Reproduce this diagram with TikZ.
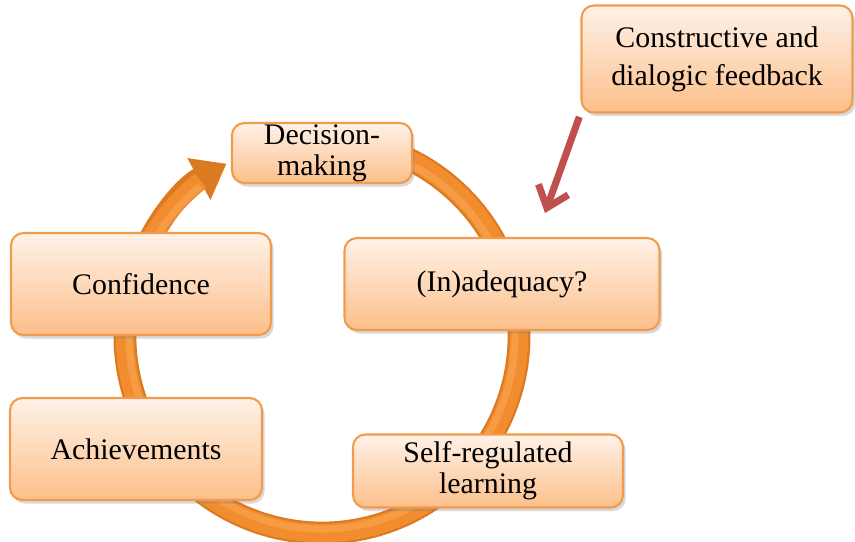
\documentclass[tikz,border=0pt]{standalone}
\usepackage{fontspec}
\setmainfont{Liberation Serif}
\usetikzlibrary{arrows.meta,shadows}

\definecolor{boxtop}{HTML}{FFF2E8}
\definecolor{boxbot}{HTML}{FCBF8A}
\definecolor{boxedge}{HTML}{F29B4C}
\definecolor{ringdark}{HTML}{DB7A20}
\definecolor{ringmid}{HTML}{F28D2F}
\definecolor{ringlight}{HTML}{F59C45}
\definecolor{fbred}{HTML}{C0504D}

\begin{document}
\begin{tikzpicture}[x=0.02cm, y=-0.02cm,
    stage/.style = {draw=boxedge, line width=1.2pt, rounded corners=7pt,
                    top color=boxtop, bottom color=boxbot,
                    drop shadow={shadow xshift=1.5pt, shadow yshift=-2pt, opacity=.3},
                    align=center, inner sep=0pt,
                    font=\fontsize{17}{17.5}\selectfont},
    fbarrow/.style = {draw=fbred, line width=4pt, line join=miter,
                      -{Straight Barb[length=11pt,width=18pt]}}]
    \useasboundingbox (0,0) rectangle (855,541);

    % the cycle goes under the boxes
    \coordinate (hub) at (322,336);
    \draw[ringdark, line width=13pt, -{Triangle[length=18pt,width=26pt]}]
        (hub) ++(-75:197) arc[start angle=-75, end angle=241, radius=197];
    \draw[ringmid, line width=10.5pt]
        (hub) ++(-75:197) arc[start angle=-75, end angle=232, radius=197];
    \draw[ringlight, line width=4pt]
        (hub) ++(-75:193) arc[start angle=-75, end angle=231, radius=193];

    \node[stage, minimum width=3.6cm, minimum height=1.2cm] (dec) at (322,153) {Decision-\\making};
    \node[stage, minimum width=6.3cm, minimum height=1.84cm] (inad) at (502,284) {(In)adequacy?};
    \node[stage, minimum width=5.4cm, minimum height=1.46cm] (srl) at (488,471) {Self-regulated\\learning};
    \node[stage, minimum width=5.04cm, minimum height=2.04cm] (ach) at (136,449) {Achievements};
    \node[stage, minimum width=5.2cm, minimum height=2.04cm] (conf) at (141,284) {Confidence};

    \node[stage, minimum width=5.42cm, minimum height=2.14cm,
          font=\fontsize{17}{21.5}\selectfont] (fb) at (717,59) {Constructive and\\dialogic feedback};

    \coordinate (fbtip) at (545,213);
    \draw[fbarrow, shorten <=2pt] (fb.south west) -- (fbtip);
\end{tikzpicture}
\end{document}
